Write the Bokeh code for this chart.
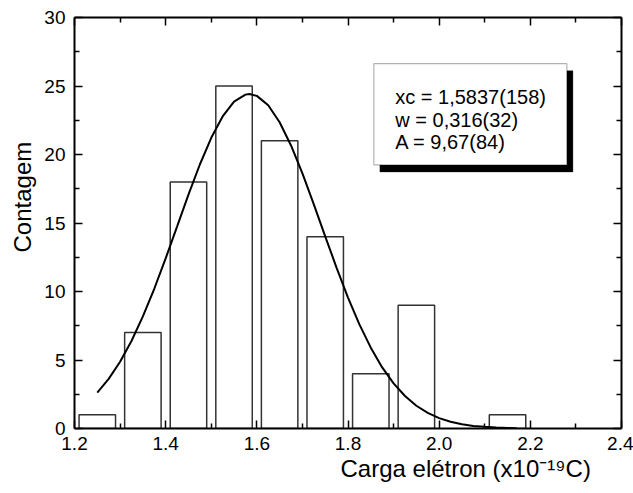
from bokeh.plotting import figure
from bokeh.models import FixedTicker, LinearAxis, Range1d, Label, BoxAnnotation, Title
from bokeh.embed import file_html
from bokeh.resources import INLINE

# ---- data ----
bin_centers = [1.25, 1.35, 1.45, 1.55, 1.65, 1.75, 1.85, 1.95, 2.15]
counts = [1, 7, 18, 25, 21, 14, 4, 9, 1]

fit_x = [1.25, 1.275, 1.30, 1.325, 1.35, 1.375, 1.40, 1.425, 1.45, 1.475, 1.50,
         1.525, 1.55, 1.575, 1.584, 1.60, 1.625, 1.65, 1.675, 1.70, 1.725, 1.75,
         1.775, 1.80, 1.825, 1.85, 1.875, 1.90, 1.925, 1.95, 1.975, 2.00, 2.025,
         2.05, 2.075, 2.10, 2.125, 2.15, 2.17]
fit_y = [2.62, 3.62, 4.87, 6.39, 8.18, 10.20, 12.42, 14.74, 17.07, 19.27, 21.22,
         22.78, 23.86, 24.37, 24.41, 24.28, 23.59, 22.35, 20.66, 18.62, 16.36, 14.03,
         11.73, 9.56, 7.60, 5.90, 4.46, 3.29, 2.37, 1.66, 1.14, 0.76, 0.49,
         0.31, 0.19, 0.12, 0.07, 0.04, 0.02]

x_ticks = [1.2, 1.4, 1.6, 1.8, 2.0, 2.2, 2.4]
x_tick_labels = ["1.2", "1.4", "1.6", "1.8", "2.0", "2.2", "2.4"]
x_minor = [1.3, 1.5, 1.7, 1.9, 2.1, 2.3]
y_ticks = [0, 5, 10, 15, 20, 25, 30]
y_tick_labels = ["0", "5", "10", "15", "20", "25", "30"]
y_minor = [2.5, 7.5, 12.5, 17.5, 22.5, 27.5]

fit_text = ["xc = 1,5837(158)", "w = 0,316(32)", "A = 9,67(84)"]
x_title = "Carga elétron (x10⁻¹⁹C)"
y_title = "Contagem"

FONT = "Liberation Sans"
BAR_W = 0.08

p = figure(width=633, height=493, output_backend="svg", toolbar_location=None,
           x_range=Range1d(1.2, 2.4), y_range=Range1d(0, 30),
           min_border_left=73, min_border_right=12, min_border_top=17,
           min_border_bottom=65, x_axis_location=None, y_axis_location=None)
p.xgrid.visible = False
p.ygrid.visible = False
p.outline_line_color = None
p.background_fill_color = "white"
p.border_fill_color = "white"


def style_axis(ax, ticks, minor, labels, show_labels):
    ax.ticker = FixedTicker(ticks=ticks, minor_ticks=minor)
    ax.axis_line_width = 2
    ax.axis_line_color = "black"
    ax.major_tick_in = 8
    ax.major_tick_out = 0
    ax.minor_tick_in = 5
    ax.minor_tick_out = 0
    ax.major_tick_line_width = 1.5
    ax.minor_tick_line_width = 1.5
    ax.major_tick_line_color = "black"
    ax.minor_tick_line_color = "black"
    if show_labels:
        ax.major_label_overrides = {t: l for t, l in zip(ticks, labels)}
        ax.major_label_text_font = FONT
        ax.major_label_text_font_size = "19px"
        ax.major_label_text_color = "black"
        ax.major_label_standoff = 8
    else:
        ax.major_label_overrides = {t: "" for t in ticks}
        ax.major_label_text_font_size = "1px"
        ax.major_label_standoff = 0


xb = LinearAxis()
style_axis(xb, x_ticks, x_minor, x_tick_labels, True)
p.add_layout(xb, "below")

# invisible spacer between the tick labels and the x title
spacer = LinearAxis(ticker=FixedTicker(ticks=x_ticks, minor_ticks=[]),
                    axis_line_color=None, major_tick_line_color=None,
                    minor_tick_line_color=None, major_tick_in=0, major_tick_out=0,
                    minor_tick_in=0, minor_tick_out=0,
                    major_label_overrides={t: "" for t in x_ticks},
                    major_label_text_font_size="1px", major_label_standoff=12)
p.add_layout(spacer, "below")

xt = LinearAxis()
style_axis(xt, x_ticks, x_minor, x_tick_labels, False)
p.add_layout(xt, "above")
yl = LinearAxis()
style_axis(yl, y_ticks, y_minor, y_tick_labels, True)
yl.major_label_standoff = 9
p.add_layout(yl, "left")
yr = LinearAxis()
style_axis(yr, y_ticks, y_minor, y_tick_labels, False)
p.add_layout(yr, "right")

# axis titles (offset like the reference, not centred)
p.add_layout(Title(text=x_title, align="left", offset=266, text_font=FONT,
                   text_font_size="24px", text_font_style="normal",
                   text_color="black", standoff=0), "below")
p.add_layout(Title(text=y_title, align="left", offset=176, text_font=FONT,
                   text_font_size="24px", text_font_style="normal",
                   text_color="black", standoff=12), "left")

# histogram bars
p.quad(left=[c - BAR_W / 2 for c in bin_centers], right=[c + BAR_W / 2 for c in bin_centers],
       bottom=[0] * len(counts), top=counts, fill_color="white",
       line_color="#333333", line_width=1.5)

# gaussian fit curve
p.line(fit_x, fit_y, line_color="black", line_width=2)

# parameter box with shadow
dx = 6 / 453.33
dy = 7 / 13.633
bl, br, bt, bb = 1.8567, 2.2802, 26.63, 19.24
p.add_layout(BoxAnnotation(left=bl + dx, right=br + dx, top=bt - dy, bottom=bb - dy,
                           fill_color="black", fill_alpha=1, line_color="black",
                           line_width=1))
p.add_layout(BoxAnnotation(left=bl, right=br, top=bt, bottom=bb,
                           fill_color="white", fill_alpha=1, line_color="black",
                           line_width=1.2))
for txt, yy in zip(fit_text, [24.23, 22.54, 20.88]):
    p.add_layout(Label(x=1.9037, y=yy, text=txt, text_font=FONT, text_font_size="20px",
                       text_color="black", text_baseline="alphabetic", text_align="left"))

open("out.html", "w").write(file_html(p, INLINE))
